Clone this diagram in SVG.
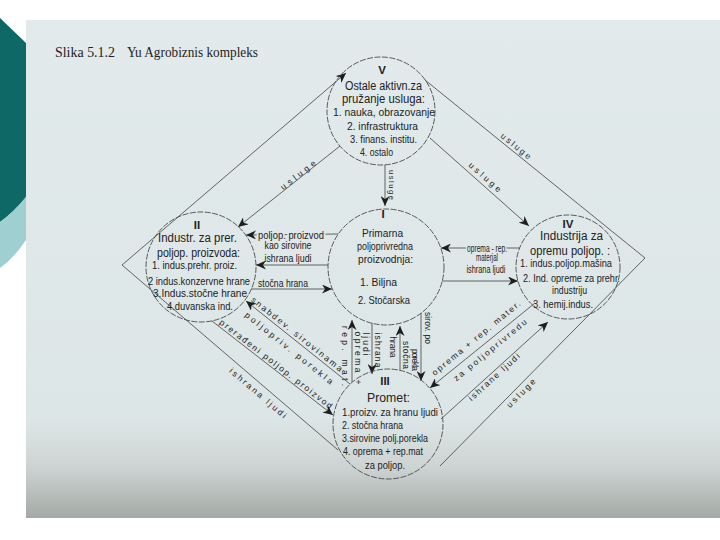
<svg xmlns="http://www.w3.org/2000/svg" width="720" height="540" viewBox="0 0 720 540">
<defs>
<linearGradient id="pg" x1="0" y1="0" x2="0" y2="1">
<stop offset="0" stop-color="#e2eaeb"/>
<stop offset="0.8" stop-color="#dde6e7"/>
<stop offset="0.9" stop-color="#cdd3d2"/>
<stop offset="1" stop-color="#a4a9a5"/>
</linearGradient>
<marker id="ah" markerUnits="userSpaceOnUse" markerWidth="10" markerHeight="9" refX="10" refY="4.5" orient="auto">
<path d="M0,0 L10,4.5 L0,9 L3,4.5 Z" fill="#1e1e1e"/>
</marker>
<style>
.c{fill:none;stroke:#4a4a4a;stroke-width:0.9;stroke-dasharray:6 1.5}
.l{fill:none;stroke:#4a4a4a;stroke-width:0.85}
.la{fill:none;stroke:#4a4a4a;stroke-width:0.85;marker-end:url(#ah)}
text{font-family:"Liberation Sans",Arial,sans-serif;fill:#222}
.h{font-size:12px}
.s{font-size:10px}
.m{font-size:11px}
.n{font-size:11.5px;font-weight:bold;text-anchor:middle}
.d{font-size:8.5px;text-anchor:middle;dominant-baseline:central}
.halo{paint-order:stroke;stroke:#dfe7e8;stroke-width:4px}
.t{font-family:"Liberation Serif","Times New Roman",serif;font-size:15px}
</style>
</defs>
<rect x="0" y="0" width="720" height="540" fill="#ffffff"/>
<path d="M0,18 L26,43 L26,197 Q14,212 0,222 Z" fill="#0e6966"/>
<path d="M0,222 Q14,212 26,197 L26,240 Q14,258 0,268 Z" fill="#9fcfd0"/>
<rect x="26" y="20" width="694" height="498" fill="url(#pg)"/>
<text class="t" x="55" y="57" textLength="60" lengthAdjust="spacingAndGlyphs">Slika 5.1.2</text>
<text class="t" x="127" y="57" textLength="131" lengthAdjust="spacingAndGlyphs">Yu Agrobiznis kompleks</text>

<g id="connectors">
<polyline class="la" points="338,450 122,265 346,73"/>
<polyline class="l" points="425,80 645,258 440,466"/>
<line class="la" x1="340" y1="146" x2="238" y2="227"/>
<line class="la" x1="430" y1="138" x2="529" y2="226"/>
<line class="la" x1="385" y1="165" x2="385" y2="206"/>
<line class="la" x1="338" y1="234" x2="246" y2="235"/>
<line class="la" x1="328" y1="265" x2="256" y2="265"/>
<line class="la" x1="251" y1="289" x2="332" y2="289"/>
<line class="la" x1="520" y1="248" x2="441" y2="248"/>
<line class="la" x1="442" y1="281" x2="518" y2="281"/>
<line class="la" x1="352" y1="382" x2="352" y2="320"/>
<line class="la" x1="372" y1="323" x2="372" y2="374"/>
<line class="la" x1="400" y1="370" x2="400" y2="326"/>
<line class="la" x1="421" y1="313" x2="421" y2="381"/>
<line class="la" x1="350" y1="384" x2="246" y2="301"/>
<line class="la" x1="212" y1="321" x2="333" y2="415"/>
<line class="la" x1="535" y1="303" x2="430" y2="388"/>
<line class="la" x1="441" y1="419" x2="548" y2="322"/>

<text class="d" transform="translate(298,175) rotate(-38)" textLength="42" lengthAdjust="spacing">usluge</text>
<text class="d" transform="translate(516,146) rotate(39)" textLength="36" lengthAdjust="spacing">usluge</text>
<text class="d" transform="translate(485,177) rotate(41.6)" textLength="40" lengthAdjust="spacing">usluge</text>
<text class="d" transform="translate(521,393) rotate(-45)" textLength="37" lengthAdjust="spacing">usluge</text>
<text class="d" transform="translate(494,377) rotate(-42.2)" textLength="66" lengthAdjust="spacing">ishrane ljudi</text>
<text class="d" transform="translate(476,338) rotate(-39.5)" textLength="112" lengthAdjust="spacing">oprema + rep. mater.</text>
<text class="d" transform="translate(490,350) rotate(-39.5)" textLength="92" lengthAdjust="spacing">za poljoprivredu</text>
<text class="d" transform="translate(297,334) rotate(38.6)" textLength="114" lengthAdjust="spacing">snabdev. sirovinama</text>
<text class="d" transform="translate(289,348) rotate(38.6)" textLength="110" lengthAdjust="spacing">poljopriv. porekla</text>
<text class="d" transform="translate(276,364) rotate(37.8)" textLength="140" lengthAdjust="spacing">prerađeni poljop. proizvod</text>
<text class="d" transform="translate(258,393) rotate(40.6)" textLength="72" lengthAdjust="spacing">ishrana ljudi</text>

<text class="d" style="font-size:7.5px" transform="translate(391,185) rotate(90)" textLength="30" lengthAdjust="spacing">usluge</text>
<text class="d" transform="translate(358,358) rotate(90)" textLength="53" lengthAdjust="spacing">oprema +</text>
<text class="d" transform="translate(345,356) rotate(90)" textLength="60" lengthAdjust="spacing">rep. mat.</text>
<text class="d" transform="translate(378,350) rotate(90)" textLength="35" lengthAdjust="spacing">ishrana</text>
<text class="d" transform="translate(366,344) rotate(90)" textLength="23" lengthAdjust="spacing">ljudi</text>
<text class="d" transform="translate(406,355) rotate(90)" textLength="28" lengthAdjust="spacing">stočna</text>
<text class="d" transform="translate(393,347) rotate(90)" textLength="21" lengthAdjust="spacing">hrana</text>
<text class="d" transform="translate(428,328) rotate(90)" textLength="32" lengthAdjust="spacing">sirov. po</text>
<text class="d" transform="translate(415,360) rotate(90)" textLength="22" lengthAdjust="spacing">porekla</text>

<text class="s halo" x="291" y="235" text-anchor="middle" dominant-baseline="central" textLength="66" lengthAdjust="spacingAndGlyphs">poljop. proizvod</text>
<text class="s" x="288" y="249" text-anchor="middle" textLength="47" lengthAdjust="spacingAndGlyphs">kao sirovine</text>
<text class="s" x="288" y="262" text-anchor="middle" textLength="47" lengthAdjust="spacingAndGlyphs">ishrana ljudi</text>
<text class="s" x="283" y="287" text-anchor="middle" textLength="50" lengthAdjust="spacingAndGlyphs">stočna hrana</text>
<text class="s halo" x="487" y="248" text-anchor="middle" dominant-baseline="central" textLength="40" lengthAdjust="spacingAndGlyphs">oprema - rep.</text>
<text class="s" x="487" y="261" text-anchor="middle" textLength="22" lengthAdjust="spacingAndGlyphs">materjal</text>
<text class="s" x="486" y="273" text-anchor="middle" textLength="39" lengthAdjust="spacingAndGlyphs">ishrana ljudi</text>
</g>

<g id="node-V">
<circle class="c" cx="381" cy="111" r="54"/>
<text class="n" x="382" y="74">V</text>
<text class="h" x="345" y="90" textLength="77" lengthAdjust="spacingAndGlyphs">Ostale aktivn.za</text>
<text class="h" x="342" y="103" textLength="83" lengthAdjust="spacingAndGlyphs">pružanje usluga:</text>
<text class="s" x="333" y="116" textLength="102" lengthAdjust="spacingAndGlyphs">1. nauka, obrazovanje</text>
<text class="s" x="347" y="130" textLength="71" lengthAdjust="spacingAndGlyphs">2. infrastruktura</text>
<text class="s" x="350" y="143" textLength="67" lengthAdjust="spacingAndGlyphs">3. finans. institu.</text>
<text class="s" x="360" y="156" textLength="33" lengthAdjust="spacingAndGlyphs">4. ostalo</text>
</g>

<g id="node-II">
<circle class="c" cx="201" cy="267" r="55"/>
<text class="n" x="197" y="229">II</text>
<text class="h" x="158" y="242" textLength="79" lengthAdjust="spacingAndGlyphs">Industr. za prer.</text>
<text class="h" x="157" y="257" textLength="83" lengthAdjust="spacingAndGlyphs">poljop. proizvoda:</text>
<text class="s" x="152" y="269" textLength="85" lengthAdjust="spacingAndGlyphs">1. indus.prehr. proiz.</text>
<text class="s" x="148" y="285" textLength="102" lengthAdjust="spacingAndGlyphs">2 indus.konzervne hrane</text>
<text class="s" x="153" y="297" textLength="94" lengthAdjust="spacingAndGlyphs">3.Indus.stočne hrane</text>
<text class="s" x="167" y="310" textLength="66" lengthAdjust="spacingAndGlyphs">4.duvanska ind.</text>
</g>

<g id="node-I">
<circle class="c" cx="386" cy="267" r="58"/>
<text class="n" x="383" y="218">I</text>
<text class="m" x="362" y="237" textLength="41" lengthAdjust="spacingAndGlyphs">Primarna</text>
<text class="m" x="357" y="250" textLength="56" lengthAdjust="spacingAndGlyphs">poljoprivredna</text>
<text class="m" x="358" y="263" textLength="55" lengthAdjust="spacingAndGlyphs">proizvodnja:</text>
<text class="m" x="360" y="286" textLength="37" lengthAdjust="spacingAndGlyphs">1. Biljna</text>
<text class="m" x="358" y="304" textLength="52" lengthAdjust="spacingAndGlyphs">2. Stočarska</text>
</g>

<g id="node-IV">
<circle class="c" cx="568" cy="267" r="52"/>
<text class="n" x="568" y="228">IV</text>
<text class="h" x="540" y="240" textLength="63" lengthAdjust="spacingAndGlyphs">Industrija za</text>
<text class="h" x="530" y="255" textLength="80" lengthAdjust="spacingAndGlyphs">opremu poljop. :</text>
<text class="s" x="520" y="267" textLength="92" lengthAdjust="spacingAndGlyphs">1. indus.poljop.mašina</text>
<text class="s" x="523" y="282" textLength="97" lengthAdjust="spacingAndGlyphs">2. Ind. opreme za prehr.</text>
<text class="s" x="552" y="294" textLength="35" lengthAdjust="spacingAndGlyphs">industriju</text>
<text class="s" x="533" y="308" textLength="60" lengthAdjust="spacingAndGlyphs">3. hemij.indus.</text>
</g>

<g id="node-III">
<circle class="c" cx="388" cy="424" r="55"/>
<text class="n" x="385" y="385">III</text>
<text class="h" x="367" y="402" textLength="43" lengthAdjust="spacingAndGlyphs">Promet:</text>
<text class="s" x="342" y="416" textLength="96" lengthAdjust="spacingAndGlyphs">1.proizv. za hranu ljudi</text>
<text class="s" x="342" y="429" textLength="61" lengthAdjust="spacingAndGlyphs">2. stočna hrana</text>
<text class="s" x="342" y="442" textLength="86" lengthAdjust="spacingAndGlyphs">3.sirovine polj.porekla</text>
<text class="s" x="343" y="455" textLength="80" lengthAdjust="spacingAndGlyphs">4. oprema + rep.mat</text>
<text class="s" x="365" y="469" textLength="40" lengthAdjust="spacingAndGlyphs">za poljop.</text>
</g>
</svg>
